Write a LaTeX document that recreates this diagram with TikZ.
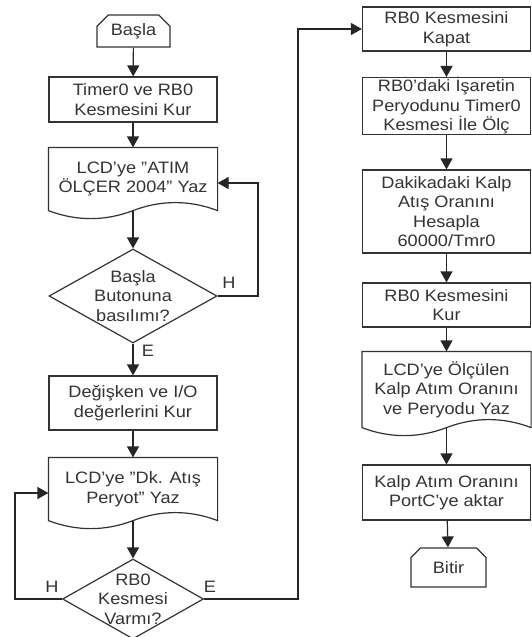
\documentclass[tikz,border=0pt]{standalone}
\usepackage{fontspec}
\setmainfont{Liberation Sans}[FakeStretch=1.1]
\usepackage{tikz}
\usetikzlibrary{shapes.geometric,shapes.misc,arrows.meta}

\tikzset{
  cizgi/.style={draw=black!80, line width=1.2pt},
  islem/.style={cizgi, rectangle, minimum width=168pt, align=center, inner sep=0pt},
  belge/.style={islem, draw=none},
  karar/.style={cizgi, diamond, inner sep=-30pt, align=center},
  uc/.style={cizgi, chamfered rectangle, chamfered rectangle corners={north west,north east}, chamfered rectangle xsep=8pt, inner sep=0pt},
  ok/.style={draw=black!85, line width=1.2pt, -{Triangle[width=12pt,length=11pt]}},
}

\begin{document}
\begin{tikzpicture}[x=1pt,y=-1pt,font=\fontsize{16.5}{19.5}\selectfont,text=black!80]
        \useasboundingbox (0,0) rectangle (532,637);
        \node[uc,minimum width=73pt,minimum height=32pt] (basla) at(133.5,31) {Başla};
        \node[islem,minimum height=45pt] (kur1) at(133,99.5) {Timer0 ve RB0\\Kesmesini Kur};
        \node[belge,minimum height=62pt] (lcd1) at(133,179) {LCD'ye "ATIM\\ÖLÇER 2004" Yaz};
        \node[karar,minimum width=168pt,minimum height=94pt] (karar1) at(133,296) {Başla\\Butonuna\\basılımı?};
        \node[islem,minimum height=54pt] (degisken) at(133,403) {Değişken ve I/O\\değerlerini Kur};
        \node[belge,minimum height=62pt] (lcd2) at(133,489) {LCD'ye "Dk. Atış\\Peryot" Yaz};
        \node[karar,minimum width=141pt,minimum height=80pt] (karar2) at(133,599) {RB0\\Kesmesi\\Varmı?};
        \node[islem,minimum height=44pt] (kapat) at(446.5,29) {RB0 Kesmesini\\Kapat};
        \node[islem,minimum height=54pt] (isaret) at(446.5,106) {RB0'daki İşaretin\\Peryodunu Timer0\\Kesmesi İle Ölç};
        \node[islem,minimum height=83pt] (hesap) at(446.5,211.5) {Dakikadaki Kalp\\Atış Oranını\\Hesapla\\60000/Tmr0};
        \node[islem,minimum height=44pt] (kur2) at(446.5,305) {RB0 Kesmesini\\Kur};
        \node[belge,minimum height=75pt] (lcd3) at(446.5,389.5) {LCD'ye Ölçülen\\Kalp Atım Oranını\\ve Peryodu Yaz};
        \node[islem,minimum height=55pt] (aktar) at(446.5,492.5) {Kalp Atım Oranını\\PortC'ye aktar};
        \node[uc,minimum width=75pt,minimum height=39pt] (bitir) at(448.5,567.5) {Bitir};
        \foreach \b in {lcd1,lcd2,lcd3}
          \draw[cizgi] (\b.south west) -- (\b.north west) -- (\b.north east) -- (\b.south east)
            .. controls +(-28,-10.7) and +(28,-10.7) .. (\b.south)
            .. controls +(-28,10.7) and +(28,10.7) .. (\b.south west) -- cycle;
        \node (h1) at(229,283) {H};
        \node (e1) at(148,351) {E};
        \node (h2) at(52,587) {H};
        \node (e2) at(210,587) {E};
        \coordinate (g1) at(258,183);
        \coordinate (g2) at(15,493);
        \coordinate (g3) at(298,29);
        \draw[ok] (basla) -- (kur1);
        \draw[ok] (kur1) -- (lcd1);
        \draw[ok] (lcd1.south) -- (karar1);
        \draw[ok] (karar1.east) -| (g1) -- (g1 -| lcd1.east);
        \draw[ok] (karar1) -- (degisken);
        \draw[ok] (degisken) -- (lcd2);
        \draw[ok] (lcd2.south) -- (karar2);
        \draw[ok] (karar2.west) -| (g2) -- (g2 -| lcd2.west);
        \draw[ok] (karar2.east) -| (g3) -- (kapat.west);
        \draw[ok] (kapat) -- (isaret);
        \draw[ok] (isaret) -- (hesap);
        \draw[ok] (hesap) -- (kur2);
        \draw[ok] (kur2) -- (lcd3);
        \draw[ok] (lcd3.south) -- (aktar);
        \draw[ok] (aktar) -- (bitir);
\end{tikzpicture}
\end{document}
